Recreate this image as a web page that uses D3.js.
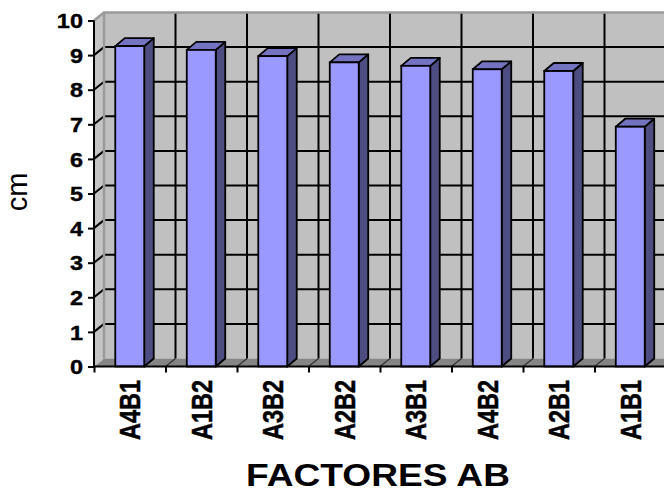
<!DOCTYPE html>
<html>
<head>
<meta charset="utf-8">
<script src="https://cdn.jsdelivr.net/npm/d3@7"></script>
<style>
  html, body { margin: 0; padding: 0; background: #fff; }
  svg { display: block; }
</style>
</head>
<body>
<svg id="chart" width="664" height="495"></svg>
<script>
// Mean height (cm) per AB factor combination, sorted descending
const categories = ["A4B1", "A1B2", "A3B2", "A2B2", "A3B1", "A4B2", "A2B1", "A1B1"];
const values = [9.26, 9.15, 8.97, 8.79, 8.69, 8.59, 8.54, 6.93];
const yTicks = [0, 1, 2, 3, 4, 5, 6, 7, 8, 9, 10];
const yLabel = "cm";
const xTitle = "FACTORES AB";

const svg = d3.select("#chart");

// front plane of the 3D box
const x = d3.scaleBand().domain(categories).range([94, 666]).padding(0);
const y = d3.scaleLinear().domain([0, 10]).range([366.5, 20.5]);

// wall depth offset and bar depth offset
const wdx = 10, wdy = -8;
const bdx = 9.5, bdy = -8;
const barFrac = 0.405;

const bw = x.bandwidth();
const xLeft = x.range()[0], xRight = x.range()[1];
const bounds = categories.map(c => x(c)).concat([xRight]);

const line = d3.line();
const plot = svg.append("g");

// back wall
plot.append("path")
  .attr("d", line([[xLeft + wdx, y(10) + wdy], [xRight + wdx, y(10) + wdy],
                   [xRight + wdx, y(0) + wdy], [xLeft + wdx, y(0) + wdy]]) + "Z")
  .attr("fill", "#c0c0c0");

// left side wall
plot.append("path")
  .attr("d", line([[xLeft, y(10)], [xLeft + wdx, y(10) + wdy],
                   [xLeft + wdx, y(0) + wdy], [xLeft, y(0)]]) + "Z")
  .attr("fill", "#c4c4c4");

// floor
plot.append("path")
  .attr("d", line([[xLeft, y(0)], [xLeft + wdx, y(0) + wdy],
                   [xRight + wdx, y(0) + wdy], [xRight, y(0)]]) + "Z")
  .attr("fill", "#858585");

// horizontal gridlines: on the back wall and across the side wall
const inner = yTicks.filter(v => v > 0 && v < 10);
plot.selectAll("line.hgrid").data(inner).join("line")
  .attr("class", "hgrid")
  .attr("x1", xLeft + wdx).attr("x2", xRight + wdx)
  .attr("y1", d => y(d) + wdy).attr("y2", d => y(d) + wdy)
  .attr("stroke", "#000").attr("stroke-width", 2);
plot.selectAll("line.sgrid").data(inner).join("line")
  .attr("class", "sgrid")
  .attr("x1", xLeft).attr("x2", xLeft + wdx)
  .attr("y1", d => y(d)).attr("y2", d => y(d) + wdy)
  .attr("stroke", "#000").attr("stroke-width", 2);

// vertical gridlines on the back wall, and their traces across the floor
const innerBounds = bounds.slice(1);
plot.selectAll("line.vgrid").data(innerBounds).join("line")
  .attr("class", "vgrid")
  .attr("x1", d => d + wdx).attr("x2", d => d + wdx)
  .attr("y1", y(10) + wdy).attr("y2", y(0) + wdy)
  .attr("stroke", "#000").attr("stroke-width", 2);
plot.selectAll("line.fgrid").data(innerBounds).join("line")
  .attr("class", "fgrid")
  .attr("x1", d => d).attr("x2", d => d + wdx)
  .attr("y1", y(0)).attr("y2", y(0) + wdy)
  .attr("stroke", "#333").attr("stroke-width", 1.2);

// wall borders
const border = "#9a9a9a";
plot.append("path")
  .attr("d", line([[xLeft, y(10)], [xLeft + wdx, y(10) + wdy], [xRight + wdx, y(10) + wdy]]))
  .attr("fill", "none").attr("stroke", border).attr("stroke-width", 2.5);
plot.append("line")
  .attr("x1", xLeft + wdx).attr("x2", xLeft + wdx)
  .attr("y1", y(10) + wdy).attr("y2", y(0) + wdy)
  .attr("stroke", border).attr("stroke-width", 2.5);
plot.append("line")
  .attr("x1", xLeft + 1.5).attr("x2", xLeft + wdx - 1)
  .attr("y1", y(0) - 1).attr("y2", y(0) + wdy + 1)
  .attr("stroke", "#b8b8b8").attr("stroke-width", 1);

// 3D columns
const data = categories.map((c, i) => ({ c, v: values[i] }));
const bars = plot.selectAll("g.bar").data(data).join("g").attr("class", "bar");
const barW = bw * barFrac;
const geom = d => {
  const x0 = x(d.c) + (bw - barW) / 2, x1 = x0 + barW;
  return { x0, x1, yt: y(d.v), yb: y(0) };
};
bars.append("path")
  .attr("d", d => { const g = geom(d);
    return line([[g.x1, g.yb], [g.x1 + bdx, g.yb + bdy], [g.x1 + bdx, g.yt + bdy], [g.x1, g.yt]]) + "Z"; })
  .attr("fill", "#4d4d82").attr("stroke", "#000").attr("stroke-width", 1.8).attr("stroke-linejoin", "round");
bars.append("path")
  .attr("d", d => { const g = geom(d);
    return line([[g.x0, g.yt], [g.x0 + bdx, g.yt + bdy], [g.x1 + bdx, g.yt + bdy], [g.x1, g.yt]]) + "Z"; })
  .attr("fill", "#7373c0").attr("stroke", "#000").attr("stroke-width", 1.8).attr("stroke-linejoin", "round");
bars.append("rect")
  .attr("x", d => geom(d).x0).attr("y", d => geom(d).yt)
  .attr("width", barW).attr("height", d => geom(d).yb - geom(d).yt)
  .attr("fill", "#9999ff").attr("stroke", "#000").attr("stroke-width", 1.8);

// value axis
const yAxis = svg.append("g")
  .attr("transform", `translate(${xLeft},0)`)
  .call(d3.axisLeft(y).tickValues(yTicks).tickSize(6).tickPadding(0).tickFormat(d3.format("d")));
yAxis.select(".domain").attr("stroke", "#000").attr("stroke-width", 2).attr("d", `M0,${y(10)}V${y(0)}`);
yAxis.selectAll(".tick line").attr("stroke", "#000").attr("stroke-width", 2);
yAxis.selectAll(".tick text")
  .attr("x", null).attr("dy", "0.34em")
  .attr("transform", "translate(-11,0) scale(1.12,1)")
  .attr("fill", "#000")
  .attr("stroke", "#000").attr("stroke-width", 0.4)
  .style("font", "bold 21px 'Liberation Sans', Arial, sans-serif");

// category axis: baseline with tick marks on band boundaries
const xEdge = d3.scaleLinear().domain([0, categories.length]).range([xLeft, xRight]);
const xAxis = svg.append("g")
  .attr("transform", `translate(0,${y(0)})`)
  .call(d3.axisBottom(xEdge).tickValues(d3.range(0, categories.length + 1)).tickSize(6).tickFormat(""));
xAxis.select(".domain").attr("stroke", "#000").attr("stroke-width", 2).attr("d", `M${xLeft},0H${xRight}`);
xAxis.selectAll(".tick line").attr("stroke", "#000").attr("stroke-width", 2);

// category labels, rotated
const labelAxis = svg.append("g")
  .attr("transform", `translate(0,${y(0)})`)
  .call(d3.axisBottom(x).tickSize(0).tickPadding(0));
labelAxis.select(".domain").remove();
labelAxis.selectAll(".tick text")
  .attr("y", null).attr("x", null).attr("dy", "0.36em")
  .attr("text-anchor", "end")
  .attr("transform", "translate(0,13.5) scale(1.25,1) rotate(-90)")
  .attr("fill", "#000")
  .attr("stroke", "#000").attr("stroke-width", 0.4)
  .style("font", "bold 23.5px 'Liberation Sans', Arial, sans-serif");

// axis titles
svg.append("text")
  .attr("transform", "translate(27,192) rotate(-90)")
  .attr("text-anchor", "middle")
  .style("font", "29px 'Liberation Sans', Arial, sans-serif")
  .text(yLabel);
svg.append("text")
  .attr("transform", "translate(378,486) scale(1.16,1)")
  .attr("text-anchor", "middle")
  .style("font", "bold 32px 'Liberation Sans', Arial, sans-serif")
  .text(xTitle);
</script>
</body>
</html>
